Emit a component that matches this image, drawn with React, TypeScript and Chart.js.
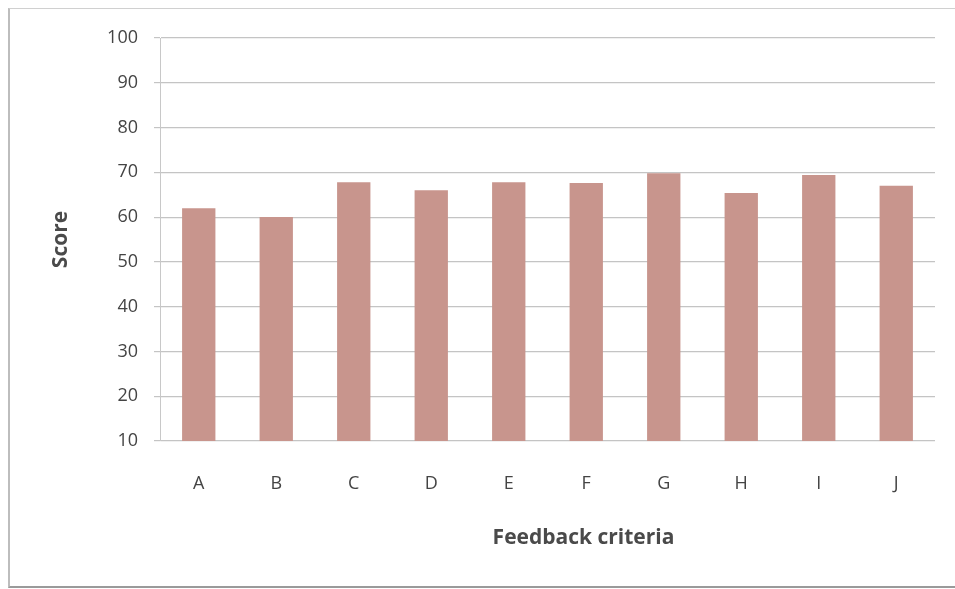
import React, { useEffect, useRef } from "react";
import { Chart, registerables } from "chart.js";

Chart.register(...registerables);

const categories = ["A", "B", "C", "D", "E", "F", "G", "H", "I", "J"];
const scores = [62, 60, 67.8, 66, 67.8, 67.6, 69.8, 65.4, 69.4, 67];
const yTickValues = [10, 20, 30, 40, 50, 60, 70, 80, 90, 100];
const xTitle = "Feedback criteria";
const yTitle = "Score";

const xTitlePlugin = {
  id: "xTitlePlugin",
  afterDraw(chart: any) {
    const { ctx, chartArea } = chart;
    ctx.save();
    ctx.font = "bold 21px 'Open Sans'";
    ctx.fillStyle = "#4a4a4a";
    ctx.textAlign = "center";
    ctx.textBaseline = "middle";
    const cx = (chartArea.left + chartArea.right) / 2 + 36;
    ctx.fillText(xTitle, cx, chartArea.bottom + 97);
    ctx.restore();
  },
};

export default function App() {
  const ref = useRef<HTMLCanvasElement | null>(null);

  useEffect(() => {
    if (!ref.current) return;
    const chart = new Chart(ref.current, {
      type: "bar",
      data: {
        labels: categories,
        datasets: [
          {
            label: yTitle,
            data: scores,
            backgroundColor: "#c8958d",
            borderWidth: 0,
            categoryPercentage: 1,
            barPercentage: 0.43,
          },
        ],
      },
      plugins: [xTitlePlugin],
      options: {
        animation: false,
        responsive: false,
        maintainAspectRatio: false,
        layout: { padding: { left: 40, top: 38, right: 20, bottom: 18 } },
        plugins: { legend: { display: false }, tooltip: { enabled: false } },
        scales: {
          x: {
            grid: { display: false, drawTicks: false },
            border: { display: false },
            ticks: {
              color: "#444",
              font: { family: "Open Sans", size: 18 },
              padding: 32,
            },
            title: { display: false },
            afterFit: (s: any) => {
              s.height = 130;
            },
          },
          y: {
            min: 10,
            max: 100,
            afterBuildTicks: (s: any) => {
              s.ticks = yTickValues.map((v) => ({ value: v }));
            },
            grid: { color: "#c4c4c4", lineWidth: 1.2, tickLength: 6 },
            border: { display: true, color: "#c8c8c8", width: 1 },
            ticks: {
              color: "#444",
              font: { family: "Open Sans", size: 18 },
              padding: 16,
            },
            title: {
              display: true,
              text: yTitle,
              color: "#4a4a4a",
              font: { family: "Open Sans", size: 21, weight: "bold" },
              padding: { top: 8, bottom: 0 },
            },
            afterFit: (s: any) => {
              s.width = 120;
            },
          },
        },
      },
    });
    return () => chart.destroy();
  }, []);

  return (
    <div
      style={{
        position: "fixed",
        left: 0,
        top: 0,
        width: 955,
        height: 589,
        background: "#fff",
      }}
    >
      <div
        style={{
          position: "absolute",
          left: 8,
          top: 8,
          width: 945,
          height: 577,
          borderTop: "1px solid #d0d0d0",
          borderLeft: "2px solid #bdbdbd",
          borderBottom: "2px solid #9a9a9a",
        }}
      />
      <canvas
        ref={ref}
        width={955}
        height={589}
        style={{ position: "absolute", left: 0, top: 0 }}
      />
    </div>
  );
}
